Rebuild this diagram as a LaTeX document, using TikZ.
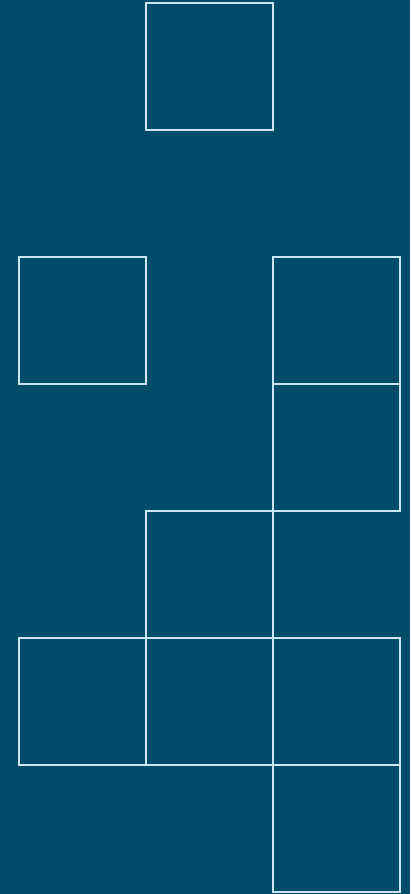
\documentclass[tikz,border=0pt]{standalone}
\definecolor{bgteal}{RGB}{0,77,106}
\definecolor{edgeblue}{RGB}{205,230,245}
\begin{document}
\begin{tikzpicture}[x=1pt, y=-1pt,
    cell/.style={rectangle, draw=edgeblue, line width=1.6pt, minimum size=127pt, inner sep=0pt}]
  % Background with the reference margins
  \fill[bgteal] (0,0) rectangle (410,894);
  \useasboundingbox (0,0) rectangle (410,894);
  % Place the squares of the net at their cell centres
  \foreach \name/\x/\y in {top/209.5/66.5, left/82.5/320.5, rA/336.5/320.5,
      rB/336.5/447.5, mid/209.5/574.5, bL/82.5/701.5, bM/209.5/701.5,
      bR/336.5/701.5, tail/336.5/828.5}{
    \node[cell] (\name) at (\x,\y) {};
  }
\end{tikzpicture}
\end{document}
